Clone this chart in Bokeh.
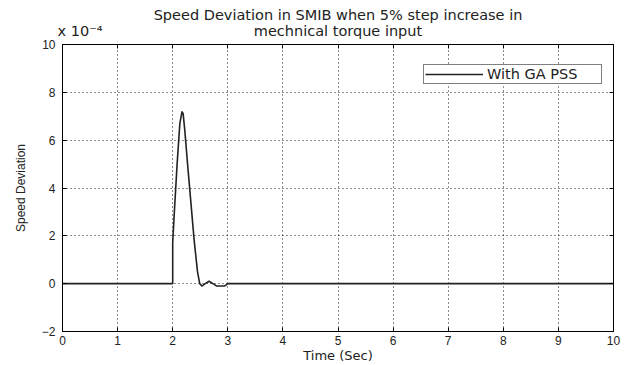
from bokeh.plotting import figure
from bokeh.models import (Range1d, LinearAxis, FixedTicker, Title, Legend, LegendItem)
from bokeh.embed import file_html
from bokeh.resources import INLINE

# Data (speed deviation in units of 1e-4)
time_s = [0.0, 2.0, 2.0, 2.03, 2.08, 2.13, 2.17, 2.19, 2.22, 2.27, 2.33, 2.39, 2.45, 2.49,
          2.53, 2.59, 2.66, 2.73, 2.80, 2.87, 2.94, 3.0, 10.0]
speed_dev_e4 = [0.0, 0.0, 1.7, 3.0, 5.0, 6.7, 7.2, 7.1, 6.4, 5.0, 3.4, 1.8, 0.5, 0.0,
                -0.1, 0.0, 0.1, 0.0, -0.1, -0.1, -0.1, 0.0, 0.0]
x_ticks = [0, 1, 2, 3, 4, 5, 6, 7, 8, 9, 10]
y_ticks = [-2, 0, 2, 4, 6, 8, 10]
title_line1 = "Speed Deviation in SMIB when 5% step increase in"
title_line2 = "mechnical torque input"
multiplier = "x 10\u207b\u2074"

FONT = "Liberation Sans"
WIDE = "DejaVu Sans"
TXT = "#222222"

p = figure(width=626, height=365, output_backend="svg", toolbar_location=None,
           x_range=Range1d(0, 10), y_range=Range1d(-2, 10),
           min_border_left=62, min_border_right=13, min_border_top=44, min_border_bottom=33)
p.background_fill_color = "white"
p.border_fill_color = "white"
p.outline_line_color = "black"
p.outline_line_width = 1

# Axes
for ax in (p.xaxis[0], p.yaxis[0]):
    ax.major_tick_in = 4
    ax.major_tick_out = 0
    ax.minor_tick_in = 0
    ax.minor_tick_out = 0
    ax.axis_line_color = "black"
    ax.major_tick_line_color = "black"
    ax.major_label_text_font = FONT
    ax.major_label_text_font_size = "12px"
    ax.major_label_text_color = TXT
    ax.axis_label_text_font_style = "normal"
    ax.axis_label_text_color = TXT

p.xaxis[0].ticker = FixedTicker(ticks=x_ticks)
p.yaxis[0].ticker = FixedTicker(ticks=y_ticks)
p.xaxis[0].major_label_standoff = 4
p.yaxis[0].major_label_standoff = 7
p.xaxis[0].axis_label = "Time (Sec)"
p.xaxis[0].axis_label_text_font = WIDE
p.xaxis[0].axis_label_text_font_size = "13px"
p.xaxis[0].axis_label_standoff = 0
p.yaxis[0].axis_label = "Speed Deviation"
p.yaxis[0].axis_label_text_font = FONT
p.yaxis[0].axis_label_text_font_size = "12px"
p.yaxis[0].axis_label_standoff = 11

# Inner tick marks on the top and right sides of the box
top_ax = LinearAxis(ticker=FixedTicker(ticks=x_ticks), major_label_text_font_size="0px",
                    major_tick_in=4, major_tick_out=0, minor_tick_in=0, minor_tick_out=0,
                    axis_line_color="black", major_label_standoff=0, major_label_text_alpha=0)
right_ax = LinearAxis(ticker=FixedTicker(ticks=y_ticks), major_label_text_font_size="0px",
                      major_tick_in=4, major_tick_out=0, minor_tick_in=0, minor_tick_out=0,
                      axis_line_color="black", major_label_standoff=0, major_label_text_alpha=0)
p.add_layout(right_ax, "right")
p.add_layout(top_ax, "above")

# Second title line and the x 10^-4 multiplier share one row above the box
label_ax = LinearAxis(ticker=FixedTicker(ticks=[0.32, 5]),
                      major_label_overrides={0.32: multiplier, 5: title_line2},
                      major_label_text_font=WIDE, major_label_text_font_size="14.5px",
                      major_label_text_color=TXT, major_label_standoff=6,
                      major_tick_in=0, major_tick_out=0, minor_tick_in=0, minor_tick_out=0,
                      axis_line_color=None, major_tick_line_color=None)
p.add_layout(label_ax, "above")

# Grid
for g in (p.xgrid[0], p.ygrid[0]):
    g.grid_line_color = "black"
    g.grid_line_dash = "1 3"
    g.grid_line_width = 1
    g.grid_line_alpha = 0.9
p.xgrid[0].ticker = FixedTicker(ticks=x_ticks)
p.ygrid[0].ticker = FixedTicker(ticks=y_ticks)

# Data line
r = p.line(time_s, speed_dev_e4, line_color="#222222", line_width=1.6)

# Legend
legend = Legend(items=[LegendItem(label="With GA PSS", renderers=[r])],
                border_line_color="black", border_line_width=1,
                label_text_font=WIDE, label_text_font_size="14.5px", label_text_color=TXT,
                glyph_width=58, glyph_height=14, label_height=14, label_width=113,
                label_standoff=4, padding=1, spacing=0, margin=0, background_fill_alpha=1)
legend.location = (361, 247)
p.add_layout(legend, "center")

# First title line
p.add_layout(Title(text=title_line1, align="center", text_font=WIDE,
                   text_font_size="14.5px", text_font_style="normal", text_color=TXT,
                   standoff=-7), "above")

open("out.html", "w").write(file_html(p, INLINE))
